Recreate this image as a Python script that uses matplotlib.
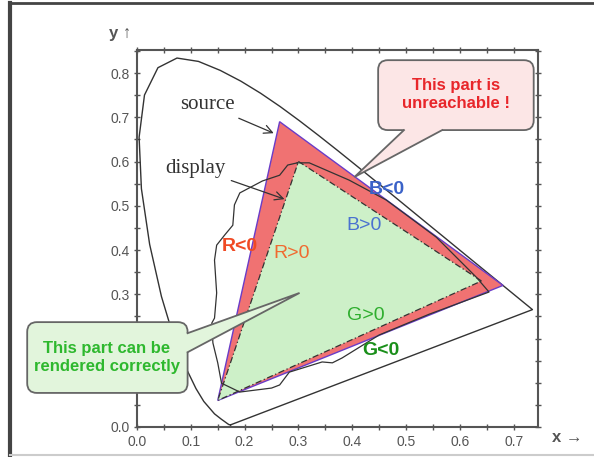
import matplotlib
matplotlib.use("Agg")
import matplotlib.pyplot as plt
from matplotlib.patches import FancyBboxPatch, Polygon
from matplotlib.lines import Line2D

# CIE 1931 spectral locus (x, y)
locus_x = [0.1741, 0.1727, 0.1714, 0.1689, 0.1644, 0.1566, 0.1440, 0.1241, 0.1096, 0.0913,
           0.0687, 0.0454, 0.0235, 0.0082, 0.0039, 0.0139, 0.0389, 0.0743, 0.1142, 0.1547,
           0.1929, 0.2296, 0.2658, 0.3016, 0.3373, 0.3731, 0.4087, 0.4441, 0.4788, 0.5125,
           0.5448, 0.5752, 0.6029, 0.6270, 0.6658, 0.6915, 0.7079, 0.7190, 0.7260, 0.7334, 0.7347]
locus_y = [0.0050, 0.0048, 0.0051, 0.0069, 0.0109, 0.0177, 0.0297, 0.0578, 0.0868, 0.1327,
           0.2007, 0.2950, 0.4127, 0.5384, 0.6548, 0.7502, 0.8120, 0.8338, 0.8262, 0.8059,
           0.7816, 0.7543, 0.7243, 0.6923, 0.6589, 0.6245, 0.5896, 0.5547, 0.5202, 0.4866,
           0.4544, 0.4242, 0.3965, 0.3725, 0.3340, 0.3083, 0.2920, 0.2809, 0.2740, 0.2666, 0.2653]

# source gamut (R, G, B)
source_x = [0.680, 0.265, 0.150]
source_y = [0.320, 0.690, 0.060]
# display gamut (R, G, B)
display_x = [0.640, 0.300, 0.150]
display_y = [0.330, 0.600, 0.060]

# irregular real-surface-colour gamut outline
pointer_x = [0.298, 0.280, 0.265, 0.233, 0.191, 0.181, 0.178, 0.163, 0.148, 0.144, 0.148,
             0.144, 0.139, 0.141, 0.150, 0.157, 0.191, 0.250, 0.265, 0.283, 0.344, 0.363,
             0.381, 0.450, 0.543, 0.654, 0.630, 0.556, 0.463, 0.394, 0.320, 0.298]
pointer_y = [0.597, 0.592, 0.569, 0.556, 0.529, 0.502, 0.456, 0.434, 0.411, 0.377, 0.303,
             0.246, 0.235, 0.190, 0.145, 0.099, 0.079, 0.088, 0.095, 0.124, 0.147, 0.145,
             0.156, 0.208, 0.255, 0.305, 0.339, 0.429, 0.513, 0.558, 0.597, 0.597]

xticks = [0.0, 0.1, 0.2, 0.3, 0.4, 0.5, 0.6, 0.7]
yticks = [0.0, 0.1, 0.2, 0.3, 0.4, 0.5, 0.6, 0.7, 0.8]
# y tick labels hidden under the green callout in the reference
hidden_yticks = [0.1, 0.2]

SANS = ['Liberation Sans', 'DejaVu Sans']
plt.rcParams['font.family'] = SANS

W, H = 594, 457
fig = plt.figure(figsize=(W / 100, H / 100), dpi=100)
ax = fig.add_axes([137 / W, 30 / H, 401 / W, 377 / H])
ax.set_xlim(0, 0.745)
ax.set_ylim(0, 0.852)

# frame of the picture
fig.add_artist(Line2D([10 / W, 10 / W], [0, 1 - 3 / H], transform=fig.transFigure,
                      color='#444444', lw=3))
fig.add_artist(Line2D([9 / W, 1], [1 - 3 / H, 1 - 3 / H], transform=fig.transFigure,
                      color='#444444', lw=2))
fig.add_artist(Line2D([10 / W, 1], [2 / H, 2 / H], transform=fig.transFigure,
                      color='#cccccc', lw=1.5))

# spectral locus
ax.plot(locus_x + [locus_x[0]], locus_y + [locus_y[0]], color='#333333', lw=1.0, zorder=2)

# source triangle
ax.add_patch(Polygon(list(zip(source_x, source_y)), closed=True, facecolor='#f07272',
                     edgecolor='#6a3cc8', lw=1.0, zorder=3))
# display triangle
ax.add_patch(Polygon(list(zip(display_x, display_y)), closed=True, facecolor='#cdf0c8',
                     edgecolor='#333333', lw=0.9, linestyle=(0, (5, 2, 1, 2)), zorder=4))
# pointer-like outline
ax.plot(pointer_x, pointer_y, color='#333333', lw=0.9, zorder=5)

SERIF = ['Liberation Serif', 'DejaVu Serif']
# source / display annotations
ax.annotate('source', xy=(0.254, 0.664), xytext=(0.131, 0.728), ha='center', va='center',
            fontsize=15, family=SERIF, color='#333333',
            arrowprops=dict(arrowstyle='->', color='#333333', lw=0.9, shrinkA=2, shrinkB=0,
                            mutation_scale=15), zorder=6)
ax.annotate('display', xy=(0.274, 0.515), xytext=(0.109, 0.585), ha='center', va='center',
            fontsize=15, family=SERIF, color='#333333',
            arrowprops=dict(arrowstyle='->', color='#333333', lw=0.9, shrinkA=2, shrinkB=0,
                            mutation_scale=15), zorder=6)

# sign labels
FS = 14
ax.text(0.465, 0.536, 'B<0', color='#3a62c8', fontsize=FS, fontweight='bold', ha='center', va='center', zorder=7)
ax.text(0.422, 0.456, 'B>0', color='#4a72d0', fontsize=FS, ha='center', va='center', zorder=7)
ax.text(0.191, 0.407, 'R<0', color='#f04a24', fontsize=FS, fontweight='bold', ha='center', va='center', zorder=7)
ax.text(0.287, 0.393, 'R>0', color='#f06a30', fontsize=FS, ha='center', va='center', zorder=7)
ax.text(0.426, 0.253, 'G>0', color='#2eae2e', fontsize=FS, ha='center', va='center', zorder=7)
ax.text(0.454, 0.174, 'G<0', color='#1a8f1a', fontsize=FS, fontweight='bold', ha='center', va='center', zorder=7)


def callout(x0, x1, y0, y1, base, tip, face, edge, zorder):
    asp = 540 / 442.5
    box = FancyBboxPatch((x0, y0), x1 - x0, y1 - y0,
                         boxstyle='round,pad=0,rounding_size=0.018', mutation_aspect=asp,
                         facecolor=face, edgecolor=edge, lw=1.3, clip_on=False, zorder=zorder)
    ax.add_patch(box)
    (bx0, by0), (bx1, by1), (ix0, iy0), (ix1, iy1) = base
    ax.add_patch(Polygon([(ix0, iy0), (bx0, by0), tip, (bx1, by1), (ix1, iy1)], closed=True,
                         facecolor=face, edgecolor='none', clip_on=False, zorder=zorder + 0.1))
    ax.plot([bx0, tip[0], bx1], [by0, tip[1], by1], color=edge, lw=1.3, clip_on=False,
            zorder=zorder + 0.2, solid_joinstyle='miter')


# unreachable callout
callout(0.448, 0.737, 0.671, 0.829,
        [(0.496, 0.671), (0.567, 0.671), (0.496, 0.68), (0.567, 0.68)],
        (0.404, 0.565), '#fce6e6', '#666666', 8)
ax.text(0.593, 0.752, 'This part is\nunreachable !', color='#e8262a', fontsize=12,
        fontweight='bold', ha='center', va='center', linespacing=1.25, zorder=9)

# renderable callout
callout(-0.204, 0.094, 0.077, 0.237,
        [(0.094, 0.212), (0.094, 0.169), (0.085, 0.212), (0.085, 0.169)],
        (0.302, 0.303), '#e2f5dc', '#666666', 8)
ax.text(-0.056, 0.158, 'This part can be\nrendered correctly', color='#2eb82e', fontsize=12,
        fontweight='bold', ha='center', va='center', linespacing=1.25, zorder=9, clip_on=False)

# axes styling
for s in ax.spines.values():
    s.set_color('#555555')
    s.set_linewidth(1.5)
ax.set_xticks(xticks)
ax.set_yticks(yticks)
ax.set_xticklabels([f'{v:.1f}' for v in xticks])
ax.set_yticklabels(['' if v in hidden_yticks else f'{v:.1f}' for v in yticks])
ax.set_xticks([0.05, 0.15, 0.25, 0.35, 0.45, 0.55, 0.65], minor=True)
ax.set_yticks([0.05, 0.15, 0.25, 0.35, 0.45, 0.55, 0.65, 0.75, 0.85], minor=True)
ax.tick_params(which='both', direction='inout', top=True, right=True, color='#555555',
               width=1.0, labelsize=10, labelcolor='#555555')
ax.tick_params(which='major', length=5)
ax.tick_params(which='minor', length=4)
ax.tick_params(axis='x', pad=3)
ax.tick_params(axis='y', pad=3)

ax.text(-0.031, 0.890, 'y \u2191', color='#555555', fontsize=12, fontweight='bold',
        ha='center', va='center', clip_on=False)
ax.text(0.800, -0.023, 'x \u2192', color='#555555', fontsize=12, fontweight='bold',
        ha='center', va='center', clip_on=False)

fig.savefig('out.png', dpi=100)
